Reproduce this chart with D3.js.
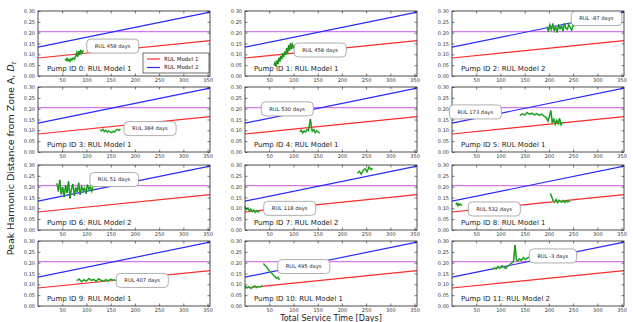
<!DOCTYPE html>
<html>
<head>
<meta charset="utf-8">
<script src="https://cdn.jsdelivr.net/npm/d3@7"></script>
<style>
  body { margin: 0; background: #fff; }
  svg { font-family: "DejaVu Sans", sans-serif; }
</style>
</head>
<body>
<div id="chart"></div>
<script>
// axis setup
const xDomain = [0, 355];
const yDomain = [0, 0.3];
const xTicks = [50, 100, 150, 200, 250, 300, 350];
const yTicks = [0, 0.05, 0.1, 0.15, 0.2, 0.25, 0.3];

// model lines (same in every panel)
const modelDays = [0, 355];
const model1 = [0.083, 0.163];
const model2 = [0.133, 0.295];
const threshold = 0.205;

// per pump info
const pumpIds = [0, 1, 2, 3, 4, 5, 6, 7, 8, 9, 10, 11];
const pumpModel = [1, 1, 2, 1, 1, 1, 2, 2, 1, 1, 1, 2];
const rulDays = [458, 458, -87, 384, 530, 173, 51, 118, 532, 407, 495, -3];
// where the RUL box sits (days, distance)
const boxDay = [154, 155, 298, 231, 87, 48, 157, 92, 87, 215, 121, 208];
const boxVal = [0.138, 0.12, 0.265, 0.108, 0.199, 0.185, 0.233, 0.1, 0.097, 0.118, 0.182, 0.231];

// measured distance traces (null = gap)
const days0 = [56, 58, 60, 62, 64, 66, 68, 70, 72, 75, 78, 80, 82, 84, 86, 88, 90, 92, 94];
const vals0 = [0.078, 0.072, 0.081, 0.07, 0.076, 0.068, 0.079, 0.074, 0.083, 0.077, 0.094, 0.108, 0.089, 0.115, 0.097, 0.121, 0.104, 0.112, 0.118];
const days1 = [60, 62, 64, 66, 68, 70, 72, 74, 76, 78, 80, 82, 84, 86, 88, 90, 92, 94, 96, 98, 100, 102, 104, 106];
const vals1 = [0.048, 0.062, 0.045, 0.071, 0.055, 0.084, 0.066, 0.093, 0.078, 0.105, 0.088, 0.112, 0.098, 0.128, 0.105, 0.142, 0.118, 0.152, 0.124, 0.146, 0.132, 0.138, 0.128, 0.134];
const days2 = [196, 199, 202, 205, 208, 211, 214, 217, 220, 223, 226, 229, 232, 235, 238, 241, 244, 247, 250, 252];
const vals2 = [0.228, 0.205, 0.236, 0.214, 0.242, 0.209, 0.226, 0.201, 0.238, 0.218, 0.232, 0.206, 0.244, 0.221, 0.215, 0.237, 0.224, 0.211, 0.235, 0.229];
const days3 = [128, 131, 134, 137, 140, 143, 146, 149, 152, 155, 158, 161, 164, 167, 170];
const vals3 = [0.102, 0.098, 0.105, 0.094, 0.1, 0.091, 0.097, 0.093, 0.089, 0.096, 0.092, 0.101, 0.104, 0.099, 0.106];
const days4 = [113, 116, 119, 122, 125, 128, 131, 133, 135, 137, 139, 142, 145, 148, 151, 154];
const vals4 = [0.094, 0.101, 0.088, 0.097, 0.092, 0.104, 0.099, 0.128, 0.152, 0.115, 0.096, 0.103, 0.089, 0.098, 0.093, 0.087];
const days5 = [140, 145, 150, 155, 160, 165, 170, 175, 180, 185, 190, 195, 198, 201, 204, 207, 210, 213, 216, 219, 222, 225, 228];
const vals5 = [0.168, 0.176, 0.171, 0.182, 0.174, 0.179, 0.172, 0.177, 0.169, 0.175, 0.166, 0.158, 0.142, 0.163, 0.191, 0.134, 0.152, 0.128, 0.147, 0.131, 0.155, 0.126, 0.138];
const days6 = [39, 42, 45, 48, 51, 54, 57, 60, 63, 66, 69, 72, 75, 78, 81, 84, 87, 90, 93, 96, 99, 102, 105, 108, 111, 114];
const vals6 = [0.215, 0.178, 0.231, 0.164, 0.198, 0.152, 0.207, 0.171, 0.224, 0.146, 0.189, 0.212, 0.158, 0.196, 0.175, 0.218, 0.162, 0.201, 0.183, 0.194, 0.168, 0.209, 0.187, 0.199, 0.178, 0.205];
const days7 = [0, 3, 6, 9, 12, 15, 18, 21, 24, 27, 30, null, 232, 236, 240, 244, 248, 252, 256, 260, 263];
const vals7 = [0.108, 0.095, 0.102, 0.088, 0.097, 0.085, 0.092, 0.081, 0.089, 0.083, 0.087, null, 0.262, 0.271, 0.258, 0.276, 0.283, 0.269, 0.291, 0.278, 0.286];
const days8 = [8, 10, 12, 14, 16, 18, 20, null, 203, 206, 209, 212, 215, 218, 221, 224, 227, 230, 233, 236, 239, 242, 244];
const vals8 = [0.118, 0.124, 0.112, 0.121, 0.115, 0.119, 0.113, null, 0.168, 0.152, 0.134, 0.128, 0.141, 0.126, 0.137, 0.131, 0.129, 0.136, 0.127, 0.133, 0.13, 0.135, 0.132];
const days9 = [80, 85, 90, 95, 100, 105, 110, 115, 120, 125, 130, 135, 140, 145, 150, 155, 159];
const vals9 = [0.117, 0.124, 0.112, 0.121, 0.115, 0.127, 0.118, 0.123, 0.113, 0.126, 0.119, 0.114, 0.122, 0.116, 0.124, 0.118, 0.121];
const days10 = [0, 4, 8, 12, 16, 20, 24, 28, 32, 36, null, 38, 41, 44, 47, 50, 53, 56, 59, 62, 65, 68, 71];
const vals10 = [0.092, 0.084, 0.089, 0.081, 0.087, 0.093, 0.085, 0.09, 0.088, 0.094, null, 0.196, 0.188, 0.181, 0.172, 0.163, 0.156, 0.149, 0.142, 0.134, 0.128, 0.132, 0.121];
const days11 = [83, 87, 91, 95, 99, 103, 107, 111, 115, 119, 123, 127, 130, 133, 136, 139, 143, 147, 151, 155, 160];
const vals11 = [0.168, 0.176, 0.171, 0.183, 0.174, 0.186, 0.179, 0.172, 0.184, 0.191, 0.198, 0.205, 0.281, 0.212, 0.207, 0.218, 0.211, 0.223, 0.214, 0.221, 0.226];

const traceDays = [days0, days1, days2, days3, days4, days5, days6, days7, days8, days9, days10, days11];
const traceVals = [vals0, vals1, vals2, vals3, vals4, vals5, vals6, vals7, vals8, vals9, vals10, vals11];

const width = 633, height = 322;
const colLeft = [38, 245, 452];
const rowTop = [11, 87, 165, 241];
const pw = 172, ph = 65;

const svg = d3.select("#chart").append("svg").attr("width", width).attr("height", height);

const x = d3.scaleLinear().domain(xDomain).range([0, pw]);
const y = d3.scaleLinear().domain(yDomain).range([ph, 0]);

const line = d3
  .line()
  .defined((d) => d[0] !== null)
  .x((d) => x(d[0]))
  .y((d) => y(d[1]));

const fmtY = d3.format(".2f");

pumpIds.forEach((id, i) => {
  const g = svg
    .append("g")
    .attr("transform", `translate(${colLeft[i % 3]},${rowTop[Math.floor(i / 3)]})`);

  // threshold line
  g.append("line")
    .attr("x1", 0)
    .attr("x2", pw)
    .attr("y1", y(threshold))
    .attr("y2", y(threshold))
    .attr("stroke", "#d878ee")
    .attr("stroke-width", 1.1);

  // model lines
  g.append("path")
    .datum(modelDays.map((d, j) => [d, model1[j]]))
    .attr("fill", "none")
    .attr("stroke", "#ff2a2a")
    .attr("stroke-width", 1.2)
    .attr("d", line);
  g.append("path")
    .datum(modelDays.map((d, j) => [d, model2[j]]))
    .attr("fill", "none")
    .attr("stroke", "#2a2aff")
    .attr("stroke-width", 1.2)
    .attr("d", line);

  // measured trace
  const pts = traceDays[i].map((d, j) => [d, traceVals[i][j]]);
  g.append("path")
    .datum(pts)
    .attr("fill", "none")
    .attr("stroke", "#40c040")
    .attr("stroke-width", 1.6)
    .attr("d", line);
  g.append("path")
    .datum(pts)
    .attr("fill", "none")
    .attr("stroke", "#0a700a")
    .attr("stroke-width", 0.6)
    .attr("d", line);

  // axes, ticks inside on all sides
  g.append("g")
    .attr("transform", `translate(0,${ph})`)
    .call(d3.axisBottom(x).tickValues(xTicks).tickSizeInner(-2.5).tickSizeOuter(0).tickPadding(2.5))
    .call((a) => a.select(".domain").remove());
  g.append("g")
    .call(d3.axisTop(x).tickValues(xTicks).tickSizeInner(-2.5).tickSizeOuter(0).tickFormat(""))
    .call((a) => a.select(".domain").remove());
  g.append("g")
    .call(d3.axisLeft(y).tickValues(yTicks).tickSizeInner(-2.5).tickSizeOuter(0).tickPadding(3).tickFormat(fmtY))
    .call((a) => a.select(".domain").remove());
  g.append("g")
    .attr("transform", `translate(${pw},0)`)
    .call(d3.axisRight(y).tickValues(yTicks).tickSizeInner(-2.5).tickSizeOuter(0).tickFormat(""))
    .call((a) => a.select(".domain").remove());
  g.selectAll(".tick text").attr("font-size", 5).attr("fill", "#333").attr("font-family", "DejaVu Sans");
  g.selectAll(".tick line").attr("stroke", "#222").attr("stroke-width", 0.6);

  // frame
  g.append("rect")
    .attr("width", pw)
    .attr("height", ph)
    .attr("fill", "none")
    .attr("stroke", "#222")
    .attr("stroke-width", 0.8);

  // pump label
  g.append("text")
    .attr("x", 9)
    .attr("y", ph - 5)
    .attr("font-size", 7)
    .attr("fill", "#222")
    .text(`Pump ID ${id}: RUL Model ${pumpModel[i]}`);

  // RUL box
  const bx = x(boxDay[i]), by = y(boxVal[i]);
  const box = g.append("rect");
  const label = g.append("text")
    .attr("x", bx)
    .attr("y", by)
    .attr("dy", "0.35em")
    .attr("text-anchor", "middle")
    .attr("font-size", 5.2)
    .attr("fill", "#222")
    .text(`RUL ${rulDays[i]} days`);
  const bb = label.node().getBBox();
  box
    .attr("x", bb.x - 8)
    .attr("y", by - 7)
    .attr("width", bb.width + 16)
    .attr("height", 14)
    .attr("rx", 4)
    .attr("fill", "#fff")
    .attr("stroke", "#999")
    .attr("stroke-width", 0.8);

  // legend only in first panel
  if (i === 0) {
    const lg = g.append("g").attr("transform", `translate(${pw - 67},${ph - 23})`);
    lg.append("rect").attr("width", 66).attr("height", 20).attr("fill", "#fff").attr("stroke", "#333").attr("stroke-width", 0.7);
    [["RUL Model 1", "#ff2a2a"], ["RUL Model 2", "#2a2aff"]].forEach(([t, c], k) => {
      lg.append("line").attr("x1", 4).attr("x2", 17).attr("y1", 6 + k * 8.5).attr("y2", 6 + k * 8.5).attr("stroke", c).attr("stroke-width", 1.2);
      lg.append("text").attr("x", 21).attr("y", 6 + k * 8.5).attr("dy", "0.35em").attr("font-size", 5.5).attr("fill", "#222").text(t);
    });
  }
});

// shared axis labels
svg.append("text")
  .attr("transform", `translate(14,${(rowTop[0] + rowTop[3] + ph) / 2}) rotate(-90)`)
  .attr("text-anchor", "middle")
  .attr("font-size", 9.5)
  .attr("fill", "#222")
  .call((t) => {
    t.append("tspan").text("Peak Harmonic Distance from Zone A, ");
    t.append("tspan").attr("font-style", "italic").text("D");
    t.append("tspan").attr("font-size", 6.5).attr("dy", 2).attr("font-style", "italic").text("t");
  });

svg.append("text")
  .attr("x", colLeft[1] + pw / 2)
  .attr("y", 321)
  .attr("text-anchor", "middle")
  .attr("font-size", 8)
  .attr("fill", "#222")
  .text("Total Service Time [Days]");
</script>
</body>
</html>
